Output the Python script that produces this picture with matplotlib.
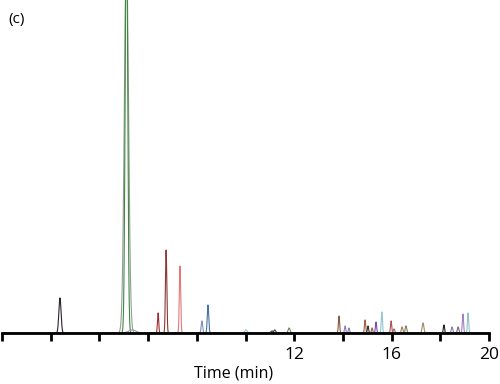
import numpy as np
import matplotlib
matplotlib.use("Agg")
import matplotlib.pyplot as plt

# peak retention times (min), heights (arbitrary units), widths (sigma, min), colours
peak_times = [2.38, 5.11, 5.11, 5.35, 6.41, 6.74, 7.31, 8.21, 8.46, 10.02, 11.09,
              11.20, 11.79, 13.84, 14.09, 14.25, 14.91, 15.03, 15.20, 15.36, 15.60,
              15.98, 16.10, 16.43, 16.59, 17.29, 18.15, 18.48, 18.73, 18.93, 19.14]
peak_heights = [35, 380, 430, 3, 20, 83, 67, 12, 28, 3, 2,
                3, 5, 17, 7, 5, 13, 7, 5, 11, 21,
                12, 4, 6, 7, 10, 8, 6, 6, 19, 20]
peak_widths = [0.045, 0.085, 0.05, 0.15, 0.025, 0.028, 0.028, 0.03, 0.03, 0.05, 0.05,
               0.04, 0.04, 0.025, 0.025, 0.025, 0.025, 0.025, 0.025, 0.025, 0.025,
               0.025, 0.03, 0.03, 0.03, 0.035, 0.025, 0.03, 0.03, 0.025, 0.025]
peak_colors = ['#2b2030', '#9a9a9a', '#3d8a3d', '#9a9a9a', '#a03030', '#8a3a30',
               '#e07a7a', '#8090b0', '#4a70a0', '#90c0d0', '#404040',
               '#404040', '#6a8a5a', '#8a5a40', '#9080b0', '#9080b0', '#a06040',
               '#303030', '#a06040', '#7050a0', '#90c8d0', '#b05050', '#a06060',
               '#a08060', '#808060', '#9a9070', '#202020', '#8080a0', '#806080',
               '#a080c0', '#90c0d0']

tick_values = [0, 2, 4, 6, 8, 10, 12, 14, 16, 18, 20]
tick_labels = ['', '', '', '', '', '', '12', '', '16', '', '20']

plt.rcParams['font.family'] = ['Open Sans', 'DejaVu Sans']

fig = plt.figure(figsize=(5.0, 3.84), dpi=100)
ax = fig.add_axes([0.004, 0.133, 0.974, 0.867])

t = np.linspace(0, 20, 6000)
for t0, h, w, c in zip(peak_times, peak_heights, peak_widths, peak_colors):
    y = h * np.exp(-0.5 * ((t - t0) / w) ** 2)
    ax.plot(t, y, color=c, lw=0.8)

ax.set_xlim(0, 20)
ax.set_ylim(0, 333)
for s in ['top', 'right', 'left']:
    ax.spines[s].set_visible(False)
ax.spines['bottom'].set_linewidth(2)
ax.set_yticks([])
ax.set_xticks(tick_values)
ax.set_xticklabels(tick_labels, fontsize=12.5)
ax.tick_params(axis='x', length=6, width=2, pad=4)
ax.set_xlabel('Time (min)', fontsize=11.5, labelpad=2, x=0.476)

fig.text(0.016, 0.94, '(c)', fontsize=11)

fig.savefig('out.png', dpi=100)
